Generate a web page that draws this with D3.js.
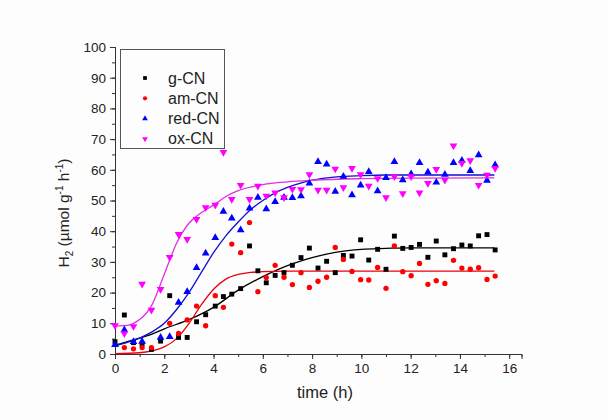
<!DOCTYPE html>
<html>
<head>
<meta charset="utf-8">
<script src="https://cdn.jsdelivr.net/npm/d3@7/dist/d3.min.js"></script>
<style>
  body { margin: 0; background: #fdfdfd; }
  text { font-family: "Liberation Sans", Arial, sans-serif; fill: #222; }
  .axis path, .axis line { stroke: #333; }
</style>
</head>
<body>
<div id="chart"></div>
<script>
// sample times (h)
var times = [0, 0.38, 0.75, 1.1, 1.48, 1.85, 2.22, 2.58, 2.93, 3.31, 3.68, 4.07, 4.4, 4.74, 5.1,
  5.46, 5.8, 6.14, 6.5, 6.86, 7.2, 7.55, 7.89, 8.24, 8.59, 8.94, 9.27, 9.62, 9.97, 10.3,
  10.66, 11.0, 11.34, 11.68, 12.02, 12.36, 12.7, 13.04, 13.39, 13.74, 14.08, 14.42, 14.76, 15.1, 15.43];

// measured H2 rates
var gCN = [4.0, 12.7, 3.7, 3.3, 1.5, 4.2, 19.0, 5.4, 5.4, 10.5, 12.8, 15.6, 18.7, 19.5, 21.3,
  35.2, 27.1, 23.2, 25.6, 26.5, 28.9, 31.4, 34.5, 28.0, 30.2, 26.5, 32.1, 31.9, 37.2, 30.6,
  34.1, 27.6, 38.4, 34.4, 34.7, 35.7, 31.5, 36.8, 32.3, 34.3, 35.5, 35.2, 38.5, 38.9, 33.9];
var amCN = [null, 2.1, 1.7, 2.1, 2.1, null, 10.0, 6.7, 11.1, 15.6, 9.2, 19.0, 15.2, 35.8, 33.0,
  42.8, 20.3, 24.9, 28.9, 25.0, 22.6, 26.5, 21.7, 23.7, 25.0, 34.7, 30.8, 26.9, 24.2, 24.1,
  28.2, 21.4, 35.2, 26.8, 25.5, 29.5, 22.7, 23.9, 23.0, 30.5, 28.0, 27.6, 28.1, 24.3, 25.4];
var redCN = [3.0, 7.8, 4.0, 4.1, null, 5.4, 5.6, 16.8, 20.3, 28.1, 32.8, 37.9, 46.4, 44.2, 40.4,
  47.5, 51.0, 47.2, 49.6, 51.0, 50.9, 51.5, 55.6, 62.6, 61.8, 52.9, 57.8, 51.8, 55.0, 59.4,
  53.1, 57.4, 62.6, 56.7, 58.6, 62.3, 59.2, 55.9, 58.5, 62.3, 63.0, 59.7, 64.8, 56.5, 61.6];
var oxCN = [9.3, 6.7, 9.0, 22.8, 14.3, 21.1, 31.5, 39.0, 37.4, 43.9, 47.7, 48.5, 65.7, 50.4, 55.0,
  50.4, 54.7, 51.5, 52.5, 51.0, 53.7, 53.6, 58.5, 53.4, 53.4, 60.3, 54.2, 60.5, 58.5, 54.7,
  57.2, 51.0, 57.8, 52.3, 57.8, 52.5, 55.6, 60.2, 56.7, 67.8, 62.1, 63.0, 55.0, 58.3, 60.5];

// fitted curves
var gFitT = [0, 0.75, 1.5, 2, 3, 4, 5, 6, 7, 7.5, 8, 9, 10, 11, 12, 13, 14, 15.4];
var gFitV = [2.9, 4.6, 6.5, 8.2, 11.2, 15.2, 20.8, 25.2, 28.8, 30.2, 31.4, 33.2, 34.1, 34.4, 34.6, 34.6, 34.6, 34.6];
var amFitT = [0, 1, 1.5, 2, 2.5, 3, 3.5, 4, 4.5, 5, 5.5, 6, 7, 9, 12, 15.4];
var amFitV = [0.1, 0.4, 1.0, 2.3, 5.0, 9.9, 16.0, 21.1, 24.4, 25.9, 26.6, 26.8, 27.0, 27.0, 27.0, 27.0];
var redFitT = [0, 0.5, 1, 1.5, 2, 2.5, 3, 3.5, 4, 4.5, 5, 5.5, 6, 6.5, 7, 7.5, 8, 9, 10, 11, 13, 15.4];
var redFitV = [2.6, 3.8, 5.2, 7.2, 10.0, 14.5, 20.0, 26.5, 33.0, 38.5, 43.0, 47.0, 50.0, 52.5, 54.3, 55.6, 56.6, 57.7, 58.1, 58.3, 58.3, 58.3];
var oxFitT = [0, 0.5, 0.75, 1, 1.5, 2, 2.5, 3, 3.5, 4, 4.5, 5, 6, 7, 8, 10, 12, 15.4];
var oxFitV = [9.1, 9.3, 10.0, 11.2, 16.0, 26.0, 36.1, 42.6, 46.0, 48.5, 51.3, 53.2, 55.2, 56.1, 56.6, 57.1, 57.3, 57.4];

var names = ["g-CN", "am-CN", "red-CN", "ox-CN"];
var colors = ["#000000", "#ff0000", "#0000ff", "#ff00ff"];
var lineColors = ["#000000", "#e8000b", "#1010d0", "#e030e0"];

var series = [
  {name: names[0], vals: gCN, fitT: gFitT, fitV: gFitV, shape: "square"},
  {name: names[1], vals: amCN, fitT: amFitT, fitV: amFitV, shape: "circle"},
  {name: names[2], vals: redCN, fitT: redFitT, fitV: redFitV, shape: "up"},
  {name: names[3], vals: oxCN, fitT: oxFitT, fitV: oxFitV, shape: "down"}
];

var svgWidth = 608, svgHeight = 420;
var svg = d3.select("#chart").append("svg")
  .attr("width", svgWidth)
  .attr("height", svgHeight);

var x = d3.scaleLinear().domain([0, 16.5]).range([115, 521.5]);
var y = d3.scaleLinear().domain([0, 100]).range([354, 47]);

// axes: minor ticks first, then labelled major ticks
svg.append("g").attr("class", "axis")
  .attr("transform", "translate(0,354)")
  .call(d3.axisBottom(x).tickValues(d3.range(0, 17, 1)).tickSize(3).tickFormat(""));
svg.append("g").attr("class", "axis")
  .attr("transform", "translate(0,354)")
  .call(d3.axisBottom(x).tickValues(d3.range(0, 17, 2)).tickSize(5).tickPadding(4))
  .call(g => g.selectAll("text").attr("font-size", 13.5).attr("fill", "#222"));

svg.append("g").attr("class", "axis")
  .attr("transform", "translate(115,0)")
  .call(d3.axisLeft(y).tickValues(d3.range(0, 101, 5)).tickSize(3).tickFormat(""));
svg.append("g").attr("class", "axis")
  .attr("transform", "translate(115,0)")
  .call(d3.axisLeft(y).tickValues(d3.range(0, 101, 10)).tickSize(5).tickPadding(4))
  .call(g => g.selectAll("text").attr("font-size", 13.5).attr("fill", "#222"));

// axis titles
svg.append("text")
  .attr("x", 325).attr("y", 398)
  .attr("text-anchor", "middle")
  .attr("font-size", 16.5)
  .text("time (h)");

var yt = svg.append("text")
  .attr("transform", "translate(69,213) rotate(-90)")
  .attr("text-anchor", "middle")
  .attr("font-size", 15.5);
yt.append("tspan").text("H");
yt.append("tspan").attr("font-size", 10).attr("dy", 4).text("2");
yt.append("tspan").attr("dy", -4).text(" (\u00b5mol g");
yt.append("tspan").attr("font-size", 10).attr("dy", -6).text("-1");
yt.append("tspan").attr("dy", 6).text(" h");
yt.append("tspan").attr("font-size", 10).attr("dy", -6).text("-1");
yt.append("tspan").attr("dy", 6).text(")");

function symbolPath(shape, size) {
  var t = shape === "square" ? d3.symbolSquare : shape === "circle" ? d3.symbolCircle : d3.symbolTriangle;
  return d3.symbol().type(t).size(size)();
}
function symbolTransform(shape, px, py) {
  return "translate(" + px + "," + py + ")" + (shape === "down" ? " rotate(180)" : "");
}

// fit lines
var line = d3.line()
  .x(d => x(d[0]))
  .y(d => y(d[1]))
  .curve(d3.curveMonotoneX);

series.forEach(function(s, i) {
  svg.append("path")
    .datum(s.fitT.map((t, j) => [t, s.fitV[j]]))
    .attr("fill", "none")
    .attr("stroke", lineColors[i])
    .attr("stroke-width", 1.3)
    .attr("d", line);
});

// scatter points
series.forEach(function(s, i) {
  var pts = times.map((t, j) => [t, s.vals[j]]).filter(d => d[1] != null);
  var size = s.shape === "circle" ? 22 : s.shape === "square" ? 24 : 26;
  svg.append("g").selectAll("path")
    .data(pts)
    .enter()
    .append("path")
    .attr("d", symbolPath(s.shape, size))
    .attr("transform", d => symbolTransform(s.shape, x(d[0]), y(d[1])))
    .attr("fill", colors[i]);
});

// legend
var legend = svg.append("g");
legend.append("rect")
  .attr("x", 120.5).attr("y", 49.5)
  .attr("width", 104).attr("height", 99)
  .attr("fill", "#fdfdfd")
  .attr("stroke", "#555")
  .attr("stroke-width", 1);

series.forEach(function(s, i) {
  var ly = 78 + i * 20.3;
  legend.append("path")
    .attr("d", symbolPath(s.shape, 14))
    .attr("transform", symbolTransform(s.shape, 145, ly))
    .attr("fill", colors[i]);
  legend.append("text")
    .attr("x", 168).attr("y", ly + 5.5)
    .attr("font-size", 16)
    .text(s.name);
});
</script>
</body>
</html>
